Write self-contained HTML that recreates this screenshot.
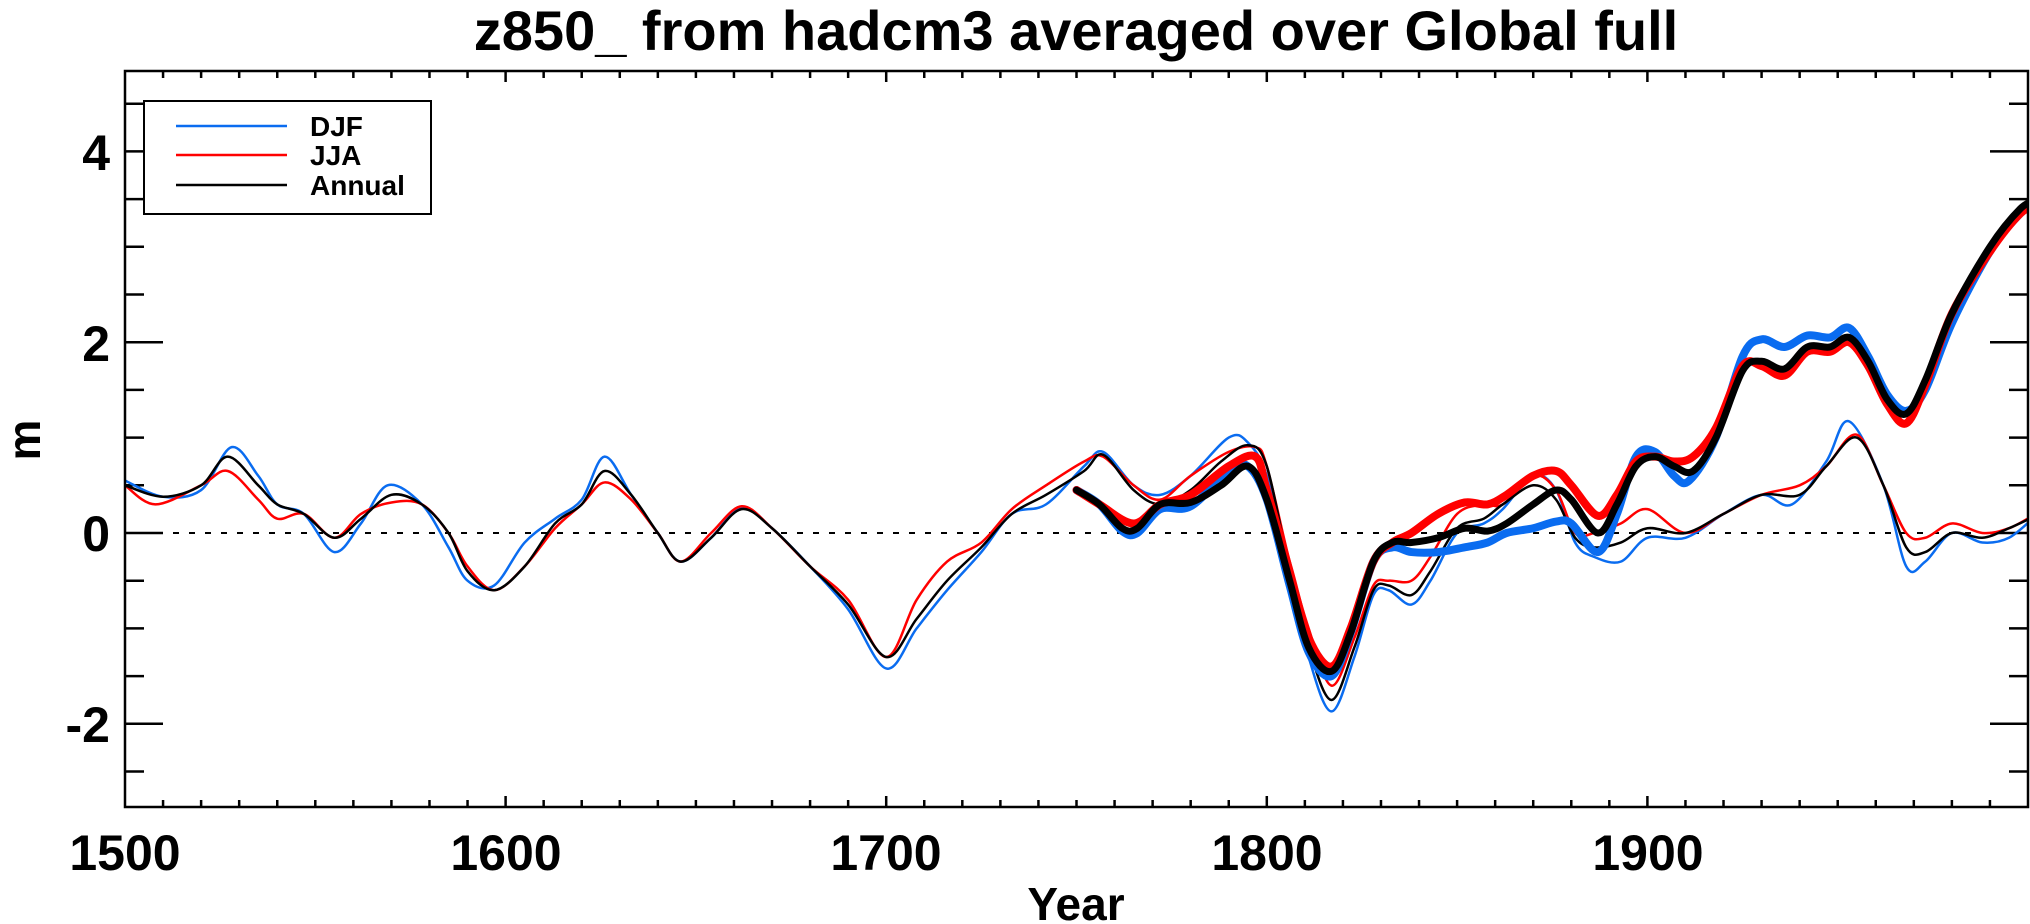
<!DOCTYPE html>
<html><head><meta charset="utf-8"><style>
html,body{margin:0;padding:0;background:#fff;}
svg{display:block;}
text{font-family:"Liberation Sans",Arial,sans-serif;font-weight:bold;fill:#000;}
</style></head><body>
<svg id="s" width="2030" height="924" viewBox="0 0 2030 924" xmlns="http://www.w3.org/2000/svg">
<defs><clipPath id="c"><rect x="125" y="71" width="1903" height="736"/></clipPath></defs>
<text x="1076" y="50" font-size="56" text-anchor="middle">z850_ from hadcm3 averaged over Global full</text>
<g id="ax"></g>
<line x1="125" y1="533" x2="2028" y2="533" stroke="#000" stroke-width="2" stroke-dasharray="6,10"/>
<g id="cur" clip-path="url(#c)" fill="none" stroke-linejoin="round" stroke-linecap="round"></g>
<rect x="125" y="71" width="1903" height="736" fill="none" stroke="#000" stroke-width="2.5"/>
<text x="110" y="170" font-size="50" text-anchor="end">4</text>
<text x="110" y="361" font-size="50" text-anchor="end">2</text>
<text x="110" y="551" font-size="50" text-anchor="end">0</text>
<text x="110" y="742" font-size="50" text-anchor="end">-2</text>
<text x="125" y="870" font-size="50" text-anchor="middle">1500</text>
<text x="506" y="870" font-size="50" text-anchor="middle">1600</text>
<text x="886" y="870" font-size="50" text-anchor="middle">1700</text>
<text x="1267" y="870" font-size="50" text-anchor="middle">1800</text>
<text x="1648" y="870" font-size="50" text-anchor="middle">1900</text>
<text x="1076" y="920" font-size="46" text-anchor="middle">Year</text>
<text x="0" y="0" font-size="46" text-anchor="middle" transform="translate(40,440) rotate(-90)">m</text>
<rect x="144" y="101" width="287" height="113" fill="#fff" stroke="#000" stroke-width="2"/>
<line x1="176" y1="126" x2="287" y2="126" stroke="#0a6cf0" stroke-width="2.5"/>
<line x1="176" y1="155" x2="287" y2="155" stroke="#f00" stroke-width="2.5"/>
<line x1="176" y1="185" x2="287" y2="185" stroke="#000" stroke-width="2.5"/>
<text x="310" y="136" font-size="28">DJF</text>
<text x="310" y="165" font-size="28">JJA</text>
<text x="310" y="195" font-size="28">Annual</text>
</svg>
<script>
var X=function(y){return 125+(y-1500)*3.806;},Y=function(v){return 533-v*95.4;};
var ax='';
for(var yr=1510;yr<2000;yr+=10){var x=X(yr),L=(yr%100==0)?11:7;ax+='<line x1="'+x+'" y1="807" x2="'+x+'" y2="'+(807-L)+'" stroke="#000" stroke-width="2.5"/><line x1="'+x+'" y1="71" x2="'+x+'" y2="'+(71+L)+'" stroke="#000" stroke-width="2.5"/>';}
for(var v=-2.5;v<=4.6;v+=0.5){var y=Y(v),L=(Math.abs(v%2)<0.01)?38:19;ax+='<line x1="125" y1="'+y+'" x2="'+(125+L)+'" y2="'+y+'" stroke="#000" stroke-width="2.5"/><line x1="2028" y1="'+y+'" x2="'+(2028-L)+'" y2="'+y+'" stroke="#000" stroke-width="2.5"/>';}
document.getElementById('ax').innerHTML=ax;
function P(d){var p=d.map(function(a){return [X(a[0]),Y(a[1])];});var s='M'+p[0][0]+','+p[0][1];
for(var i=0;i<p.length-1;i++){var p0=p[Math.max(i-1,0)],p1=p[i],p2=p[i+1],p3=p[Math.min(i+2,p.length-1)];
s+='C'+(p1[0]+(p2[0]-p0[0])/6)+','+(p1[1]+(p2[1]-p0[1])/6)+' '+(p2[0]-(p3[0]-p1[0])/6)+','+(p2[1]-(p3[1]-p1[1])/6)+' '+p2[0]+','+p2[1];}return s;}
function D(s){var a=s.trim().split(/\s+/).map(Number),r=[];for(var i=0;i<a.length;i+=2)r.push([a[i],a[i+1]]);return r;}
var annT=D("1500 .5 1510 .38 1520 .5 1527 .8 1535 .5 1540 .3 1547 .2 1555 -.05 1562 .15 1570 .4 1578 .3 1585 0 1590 -.4 1597 -.6 1605 -.35 1613 .1 1620 .3 1626 .65 1633 .4 1640 0 1646 -.3 1654 -.05 1662 .25 1670 .05 1680 -.35 1690 -.75 1700 -1.3 1708 -.9 1716 -.5 1725 -.15 1733 .2 1742 .4 1752 .65 1757 .82 1765 .45 1772 .3 1780 .45 1788 .75 1795 .92 1800 .7 1806 -.4 1811 -1.2 1817 -1.75 1823 -1.2 1828 -.6 1832 -.55 1838 -.65 1843 -.4 1850 .05 1857 .15 1862 .3 1870 .5 1876 .35 1881 -.05 1886 -.15 1893 -.1 1900 .05 1910 0 1920 .2 1930 .4 1940 .4 1947 .7 1955 1 1962 .5 1968 -.15 1973 -.2 1980 0 1988 -.05 1995 .05 2002 .18");
var djfT=D("1500 .55 1510 .38 1520 .45 1528 .9 1535 .6 1540 .3 1547 .2 1555 -.2 1562 .1 1569 .5 1578 .3 1585 -.15 1590 -.5 1597 -.55 1605 -.1 1613 .15 1620 .35 1626 .8 1633 .4 1640 0 1646 -.3 1654 -.05 1662 .27 1670 .05 1680 -.35 1690 -.8 1700 -1.42 1708 -1 1716 -.6 1725 -.2 1733 .2 1742 .3 1752 .7 1757 .85 1765 .5 1772 .4 1780 .6 1790 1 1795 .95 1800 .6 1806 -.4 1811 -1.3 1817 -1.87 1823 -1.3 1828 -.65 1832 -.6 1838 -.75 1843 -.5 1850 0 1857 .1 1862 .25 1870 .6 1876 .45 1881 -.1 1886 -.25 1893 -.3 1900 -.05 1910 -.05 1920 .2 1930 .4 1938 .3 1947 .75 1953 1.17 1962 .5 1968 -.35 1973 -.3 1980 0 1988 -.1 1995 -.05 2002 .18");
var jjaT=D("1500 .5 1508 .3 1520 .5 1527 .65 1535 .35 1540 .15 1547 .2 1555 -.05 1562 .2 1570 .32 1578 .3 1585 0 1590 -.35 1597 -.6 1605 -.35 1613 .05 1620 .3 1626 .53 1633 .35 1640 0 1646 -.3 1654 0 1662 .28 1670 .05 1680 -.35 1690 -.7 1700 -1.3 1708 -.7 1716 -.3 1725 -.1 1733 .25 1742 .5 1752 .75 1757 .8 1765 .5 1772 .35 1780 .6 1790 .85 1797 .9 1800 .7 1806 -.3 1811 -1 1817 -1.6 1823 -1.1 1828 -.55 1832 -.5 1838 -.5 1843 -.25 1850 .2 1857 .3 1862 .3 1870 .6 1876 .45 1881 0 1886 0 1893 .1 1900 .25 1910 0 1920 .2 1930 .4 1940 .5 1947 .7 1955 1.03 1962 .5 1968 0 1973 -.05 1980 .1 1988 0 1995 .05 2002 .2");
var annK=D("1750 .45 1756 .3 1762 .05 1766 .05 1772 .3 1780 .32 1788 .5 1795 .7 1800 .35 1806 -.5 1811 -1.2 1817 -1.45 1822 -1.05 1828 -.3 1833 -.1 1838 -.1 1845 -.05 1852 .05 1858 .02 1863 .1 1870 .3 1876 .45 1880 .35 1887 0 1892 .3 1897 .7 1902 .8 1907 .7 1912 .65 1918 1 1925 1.7 1930 1.8 1936 1.72 1942 1.95 1948 1.95 1953 2.05 1958 1.8 1963 1.4 1968 1.25 1973 1.6 1980 2.3 1990 3 1998 3.4 2002 3.48");
var djfK=D("1750 .45 1756 .3 1762 .02 1766 0 1772 .25 1780 .28 1790 .65 1795 .7 1800 .35 1806 -.55 1811 -1.25 1817 -1.5 1822 -1.05 1828 -.3 1833 -.15 1838 -.2 1845 -.2 1852 -.15 1858 -.1 1863 0 1870 .05 1876 .12 1880 .1 1887 -.2 1892 .2 1897 .8 1902 .85 1907 .6 1911 .55 1918 1 1925 1.85 1930 2.03 1936 1.95 1942 2.07 1948 2.05 1953 2.15 1958 1.85 1963 1.45 1968 1.28 1973 1.5 1980 2.2 1990 2.95 1998 3.35 2002 3.45");
var jjaK=D("1750 .45 1756 .3 1765 .1 1772 .3 1780 .4 1790 .7 1797 .8 1800 .45 1806 -.4 1811 -1.1 1817 -1.4 1822 -1 1828 -.3 1833 -.1 1838 0 1845 .2 1852 .32 1858 .3 1863 .4 1870 .6 1876 .65 1880 .5 1887 .18 1892 .4 1897 .75 1902 .8 1907 .75 1912 .8 1918 1.1 1925 1.75 1930 1.75 1936 1.65 1942 1.9 1948 1.9 1953 2 1958 1.75 1963 1.35 1968 1.15 1973 1.55 1980 2.3 1990 2.95 1998 3.35 2002 3.42");
var c='';
[[djfT,'#0a6cf0',2.5],[jjaT,'#f00',2.5],[annT,'#000',2.5],[djfK,'#0a6cf0',8],[jjaK,'#f00',8],[annK,'#000',7]].forEach(function(a){c+='<path d="'+P(a[0])+'" stroke="'+a[1]+'" stroke-width="'+a[2]+'"/>';});
document.getElementById('cur').innerHTML=c;
</script>
</body></html>
